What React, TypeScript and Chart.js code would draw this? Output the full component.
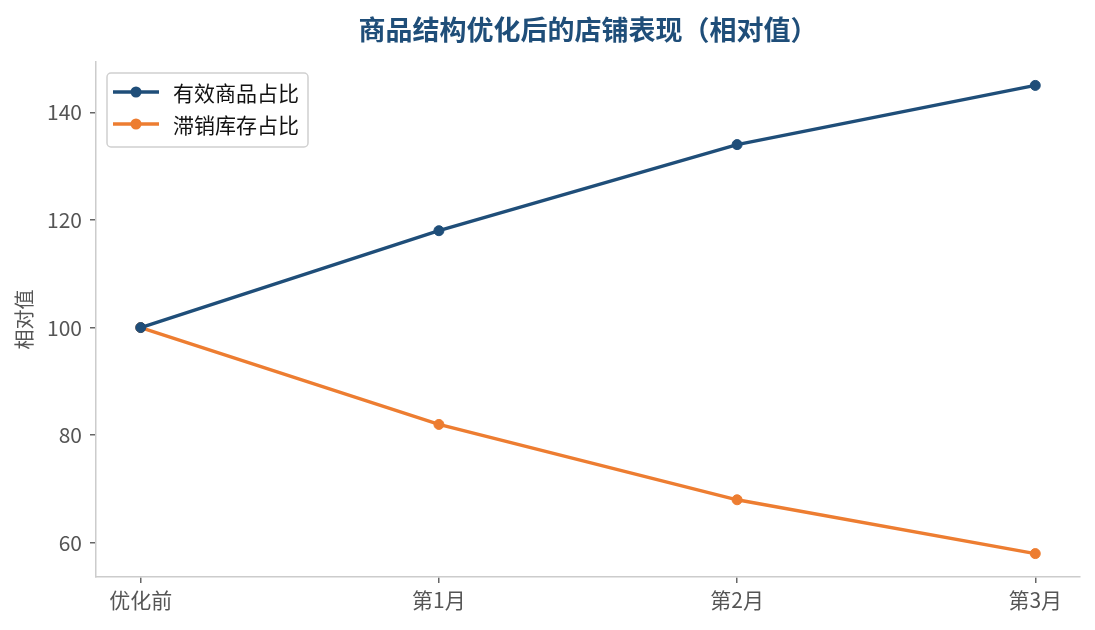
import { useEffect, useRef } from "react"
import { Chart, registerables } from "chart.js"

Chart.register(...registerables)

const categories = ["优化前", "第1月", "第2月", "第3月"]
const effectiveShare = [100, 118, 134, 145]
const slowStockShare = [100, 82, 68, 58]
const yTicks = [60, 80, 100, 120, 140]

const seriesNames = ["有效商品占比", "滞销库存占比"]
const BLUE = "#1f4e79"
const ORANGE = "#ed7d31"
const FONT = "'Noto Sans CJK SC', 'Noto Sans', sans-serif"

// matplotlib 风格的图例：线段 + 圆点
const legendPlugin = {
  id: "mplLegend",
  afterDraw(chart: Chart) {
    const ctx = chart.ctx
    const x = 107
    const y = 73
    const w = 201
    const h = 74
    ctx.save()
    ctx.beginPath()
    ctx.roundRect(x, y, w, h, 4)
    ctx.fillStyle = "rgba(255,255,255,0.85)"
    ctx.fill()
    ctx.strokeStyle = "#d0d0d0"
    ctx.lineWidth = 1.5
    ctx.stroke()

    chart.data.datasets.forEach((ds, i) => {
      const cy = y + 19 + i * 32
      const color = ds.borderColor as string
      ctx.strokeStyle = color
      ctx.lineWidth = 3.4
      ctx.beginPath()
      ctx.moveTo(113, cy)
      ctx.lineTo(159, cy)
      ctx.stroke()
      ctx.fillStyle = color
      ctx.beginPath()
      ctx.arc(136, cy, 5.5, 0, Math.PI * 2)
      ctx.fill()
      ctx.fillStyle = "#111"
      ctx.font = `21px ${FONT}`
      ctx.textAlign = "left"
      ctx.textBaseline = "middle"
      ctx.fillText(ds.label as string, 173, cy + 1)
    })
    ctx.restore()
  },
}

export default function App() {
  const chartRef = useRef<HTMLCanvasElement>(null)
  const chartInstance = useRef<Chart | null>(null)

  useEffect(() => {
    if (!chartRef.current) return
    if (chartInstance.current) {
      chartInstance.current.destroy()
    }
    const ctx = chartRef.current.getContext("2d")
    if (!ctx) return

    const toPoints = (vals: number[]) => vals.map((v, i) => ({ x: i, y: v }))

    chartInstance.current = new Chart(ctx, {
      type: "line",
      data: {
        datasets: [
          {
            label: seriesNames[0],
            data: toPoints(effectiveShare),
            borderColor: BLUE,
            backgroundColor: BLUE,
            borderWidth: 3.4,
            pointRadius: 5,
            pointBorderWidth: 1,
            pointBackgroundColor: BLUE,
            pointBorderColor: BLUE,
            tension: 0,
          },
          {
            label: seriesNames[1],
            data: toPoints(slowStockShare),
            borderColor: ORANGE,
            backgroundColor: ORANGE,
            borderWidth: 3.4,
            pointRadius: 5,
            pointBorderWidth: 1,
            pointBackgroundColor: ORANGE,
            pointBorderColor: ORANGE,
            tension: 0,
          },
        ],
      },
      options: {
        responsive: false,
        animation: false,
        layout: {
          padding: { left: 0, right: 15, top: 0, bottom: 0 },
        },
        plugins: {
          legend: { display: false },
          tooltip: { enabled: false },
          title: {
            display: true,
            fullSize: false,
            text: "商品结构优化后的店铺表现（相对值）",
            color: BLUE,
            font: { family: FONT, size: 27, weight: "bold", lineHeight: 1.2 },
            padding: { top: 14, bottom: 15.6 },
          },
        },
        scales: {
          x: {
            type: "linear",
            min: -0.15,
            max: 3.15,
            afterBuildTicks: (scale) => {
              scale.ticks = categories.map((_, i) => ({ value: i }))
            },
            afterFit: (scale) => {
              scale.height = 53
            },
            ticks: {
              color: "#555",
              font: { family: FONT, size: 21 },
              padding: 4,
              maxRotation: 0,
              autoSkip: false,
              callback: (value) => categories[Number(value)] ?? "",
            },
            grid: {
              drawOnChartArea: false,
              drawTicks: true,
              tickLength: 6,
              color: "#666",
              lineWidth: 1.5,
            },
            border: { display: true, color: "#cccccc", width: 1.5 },
          },
          y: {
            type: "linear",
            min: 53.65,
            max: 149.35,
            afterBuildTicks: (scale) => {
              scale.ticks = yTicks.map((v) => ({ value: v }))
            },
            afterFit: (scale) => {
              scale.width = 96
            },
            title: {
              display: true,
              text: "相对值",
              color: "#555",
              font: { family: FONT, size: 20, lineHeight: 1.2 },
              padding: { top: 12, bottom: 0 },
            },
            ticks: {
              color: "#555",
              font: { family: FONT, size: 21 },
              padding: 8,
              callback: (value) => String(value),
            },
            grid: {
              drawOnChartArea: false,
              drawTicks: true,
              tickLength: 6,
              color: "#666",
              lineWidth: 1.5,
            },
            border: { display: true, color: "#cccccc", width: 1.5 },
          },
        },
      },
      plugins: [legendPlugin],
    })

    return () => {
      if (chartInstance.current) {
        chartInstance.current.destroy()
        chartInstance.current = null
      }
    }
  }, [])

  return (
    <div style={{ position: "absolute", left: 0, top: 0, width: 1095, height: 630, background: "#fff" }}>
      <canvas ref={chartRef} width={1095} height={630} />
    </div>
  )
}
